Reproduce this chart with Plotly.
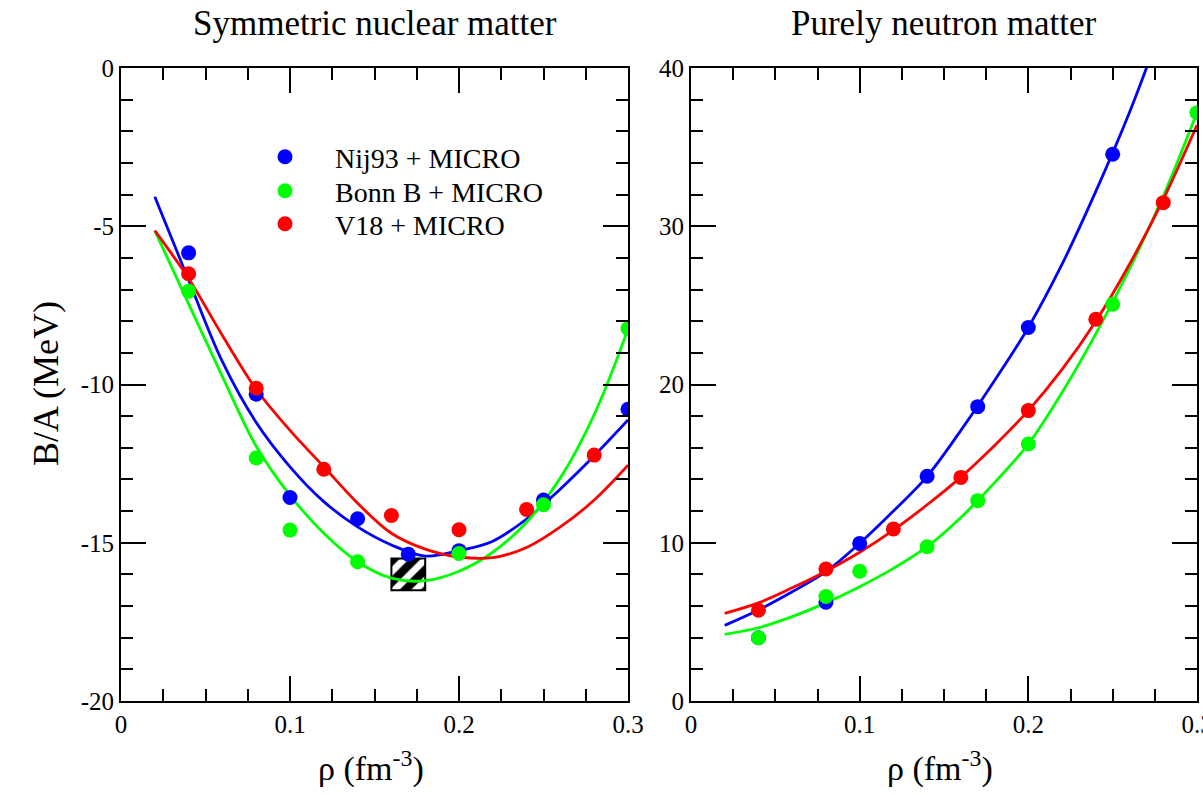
import plotly.graph_objects as go

# ---------------- data ----------------
# Symmetric nuclear matter: points
rho_sym_nij = [0.04, 0.08, 0.10, 0.14, 0.17, 0.20, 0.25, 0.30]
ba_sym_nij = [-5.84, -10.31, -13.57, -14.24, -15.36, -15.25, -13.65, -10.78]
rho_sym_bonn = [0.04, 0.08, 0.10, 0.14, 0.20, 0.25, 0.30]
ba_sym_bonn = [-7.05, -12.32, -14.60, -15.60, -15.34, -13.80, -8.23]
rho_sym_v18 = [0.04, 0.08, 0.12, 0.16, 0.20, 0.24, 0.28]
ba_sym_v18 = [-6.50, -10.12, -12.68, -14.14, -14.59, -13.95, -12.23]

# Purely neutron matter: points
rho_neu_nij = [0.04, 0.08, 0.10, 0.14, 0.17, 0.20, 0.25]
ba_neu_nij = [4.00, 6.24, 9.96, 14.20, 18.60, 23.60, 34.55]
rho_neu_bonn = [0.04, 0.08, 0.10, 0.14, 0.17, 0.20, 0.25, 0.30]
ba_neu_bonn = [4.00, 6.60, 8.20, 9.75, 12.66, 16.24, 25.07, 37.18]
rho_neu_v18 = [0.04, 0.08, 0.12, 0.16, 0.20, 0.24, 0.28]
ba_neu_v18 = [5.73, 8.34, 10.87, 14.13, 18.35, 24.12, 31.49]

# Fitted curves
rho_fit = [0.02, 0.04, 0.06, 0.08, 0.10, 0.12, 0.14, 0.16, 0.18, 0.20,
           0.22, 0.24, 0.26, 0.28, 0.30]
fit_sym_nij = [-4.07, -6.70, -9.28, -11.20, -12.60, -13.70, -14.50, -15.07,
               -15.42, -15.25, -14.95, -14.25, -13.30, -12.25, -11.12]
fit_sym_bonn = [-5.14, -7.45, -9.75, -11.95, -13.50, -14.70, -15.60, -16.12,
                -16.20, -15.90, -15.30, -14.35, -12.95, -10.95, -8.25]
fit_sym_v18 = [-5.14, -6.65, -8.45, -10.15, -11.45, -12.60, -13.75, -14.70,
               -15.20, -15.45, -15.47, -15.15, -14.50, -13.65, -12.55]
fit_neu_nij = [4.78, 5.75, 6.90, 8.17, 9.96, 12.00, 14.20, 17.10, 20.25,
               23.60, 27.60, 32.20, 37.20, 42.90, 48.90]
fit_neu_bonn = [4.21, 4.63, 5.33, 6.20, 7.22, 8.38, 9.75, 11.60, 13.80,
                16.24, 19.50, 23.20, 27.30, 31.90, 37.18]
fit_neu_v18 = [5.54, 6.20, 7.15, 8.20, 9.40, 10.80, 12.40, 14.15, 16.15,
               18.35, 20.95, 24.00, 27.60, 31.70, 36.40]

# Saturation box (empirical region)
box_rho = [0.17]
box_width = [0.02]
box_base = [-16.5]
box_height = [1.0]

series_names = ["Nij93 + MICRO", "Bonn B + MICRO", "V18 + MICRO"]
colors = ["#0000ff", "#00ff00", "#ff0000"]

panel_titles = ["Symmetric nuclear matter", "Purely neutron matter"]
x_ticks = [0, 0.1, 0.2, 0.3]
x_ticktext = ["0", "0.1", "0.2", "0.3"]
y1_ticks = [-20, -15, -10, -5, 0]
y1_ticktext = ["-20", "-15", "-10", "-5", "0"]
y2_ticks = [0, 10, 20, 30, 40]
y2_ticktext = ["0", "10", "20", "30", "40"]

FONT = "Liberation Serif, Times New Roman, serif"
W, H = 1203, 795

fig = go.Figure()

# box with hatching
fig.add_trace(go.Bar(
    x=box_rho, y=box_height, base=box_base, width=box_width,
    xaxis="x", yaxis="y", showlegend=False, hoverinfo="skip", opacity=1,
    marker=dict(color="white", opacity=1, line=dict(color="black", width=2),
                pattern=dict(shape="/", fgcolor="black", bgcolor="white",
                             fgopacity=1, size=15, solidity=0.55)),
))

# curves
for fits, ax in [((fit_sym_nij, fit_sym_bonn, fit_sym_v18), ("x", "y")),
                 ((fit_neu_nij, fit_neu_bonn, fit_neu_v18), ("x2", "y2"))]:
    for f, c in zip(fits, colors):
        fig.add_trace(go.Scatter(
            x=rho_fit, y=f, mode="lines", line=dict(color=c, width=2.8, shape="spline"),
            xaxis=ax[0], yaxis=ax[1], showlegend=False, hoverinfo="skip"))

# points
sym_pts = [(rho_sym_nij, ba_sym_nij), (rho_sym_bonn, ba_sym_bonn), (rho_sym_v18, ba_sym_v18)]
neu_pts = [(rho_neu_nij, ba_neu_nij), (rho_neu_bonn, ba_neu_bonn), (rho_neu_v18, ba_neu_v18)]
legend_ids = ["legend", "legend2", "legend3"]
for (xs, ys), c, n, lg in zip(sym_pts, colors, series_names, legend_ids):
    fig.add_trace(go.Scatter(x=xs, y=ys, mode="markers", name=n, legend=lg,
                             marker=dict(color=c, size=15, line=dict(width=0)),
                             xaxis="x", yaxis="y", showlegend=True))
for (xs, ys), c, n in zip(neu_pts, colors, series_names):
    fig.add_trace(go.Scatter(x=xs, y=ys, mode="markers", name=n,
                             marker=dict(color=c, size=15, line=dict(width=0)),
                             xaxis="x2", yaxis="y2", showlegend=False))

def px_x(p):
    return p / W

def px_y(p):
    return 1 - p / H

common_axis = dict(showline=True, linewidth=2, linecolor="black", mirror="ticks",
                   ticks="inside", ticklen=25, tickwidth=2, tickcolor="black",
                   showgrid=False, zeroline=False, automargin=False,
                   ticklabeloverflow="allow",
                   tickfont=dict(family=FONT, size=25, color="black"))

def minor(d):
    return dict(dtick=d, tick0=0, ticks="inside", ticklen=12, tickwidth=2,
                tickcolor="black", showgrid=False)

def legend_box(row_y):
    return dict(x=px_x(235), y=px_y(row_y), xanchor="left", yanchor="middle",
                bgcolor="rgba(0,0,0,0)", borderwidth=0, itemwidth=90,
                font=dict(family=FONT, size=28, color="black"))

fig.update_layout(
    template="none",
    width=W, height=H,
    margin=dict(l=0, r=0, t=0, b=0, autoexpand=False),
    paper_bgcolor="white", plot_bgcolor="white",
    font=dict(family=FONT, color="black"),
    xaxis=dict(domain=[px_x(121), px_x(628)], range=[0, 0.3], anchor="y",
               tickvals=x_ticks, ticktext=x_ticktext, minor=minor(0.025), **common_axis),
    yaxis=dict(domain=[px_y(701), px_y(68)], range=[-20, 0], anchor="x",
               tickvals=y1_ticks, ticktext=y1_ticktext, minor=minor(1), **common_axis),
    xaxis2=dict(domain=[px_x(691), px_x(1197)], range=[0, 0.3], anchor="y2",
                tickvals=x_ticks, ticktext=x_ticktext, minor=minor(0.025), **common_axis),
    yaxis2=dict(domain=[px_y(701), px_y(68)], range=[0, 40], anchor="x2",
                tickvals=y2_ticks, ticktext=y2_ticktext, minor=minor(2), **common_axis),
    legend=legend_box(157),
    legend2=legend_box(191),
    legend3=legend_box(224),
    showlegend=True,
)

annots = [
    dict(text=panel_titles[0], x=px_x(374.5), y=px_y(24), size=35),
    dict(text=panel_titles[1], x=px_x(944), y=px_y(24), size=35),
    dict(text="ρ (fm<sup>-3</sup>)", x=px_x(371), y=px_y(766), size=34),
    dict(text="ρ (fm<sup>-3</sup>)", x=px_x(940), y=px_y(766), size=34),
]
for a in annots:
    fig.add_annotation(text=a["text"], x=a["x"], y=a["y"], xref="paper", yref="paper",
                       xanchor="center", yanchor="middle", showarrow=False,
                       font=dict(family=FONT, size=a["size"], color="black"))
fig.add_annotation(text="B/A (MeV)", x=px_x(46), y=px_y(384), xref="paper", yref="paper",
                   xanchor="center", yanchor="middle", showarrow=False, textangle=-90,
                   font=dict(family=FONT, size=36, color="black"))

fig.write_html("out.html")
